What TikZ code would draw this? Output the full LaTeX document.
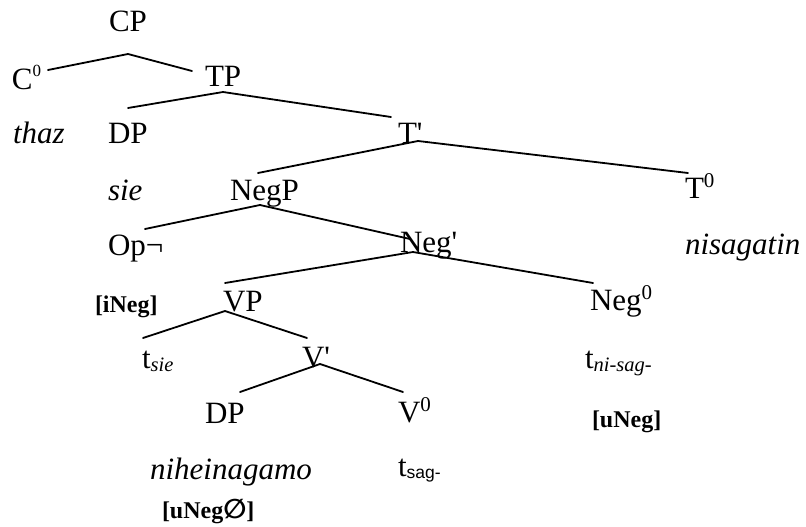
\documentclass[tikz,border=0pt]{standalone}
\usepackage{fontspec}
\setmainfont{Liberation Serif}
\newfontfamily\plainserif{Liberation Serif}
\newfontfamily\sansf{Liberation Sans}
\newfontfamily\symf{DejaVu Sans}
\newcommand{\mysup}[1]{\raisebox{11pt}{\fontsize{21}{21}\selectfont #1}}
\newcommand{\mysubi}[1]{\raisebox{-3pt}{\fontsize{20.5}{20}\selectfont\itshape #1}}
\begin{document}
\begin{tikzpicture}[x=1pt,y=-1pt,
  lab/.style={anchor=base west,inner sep=0pt,outer sep=0pt,font=\fontsize{31}{31}\selectfont},
  feat/.style={anchor=base west,inner sep=0pt,outer sep=0pt,font=\fontsize{24}{24}\selectfont\bfseries},
  branch/.style={line width=1.8pt,line cap=round}]
\useasboundingbox (0,0) rectangle (806,527);
% labels
\node[lab] (cp) at (109,32) {CP};
\node[lab] (c0) at (12,89) {C\raisebox{13pt}{\fontsize{17}{17}\selectfont 0}};
\node[lab] (tp) at (205,87) {TP};
\node[lab] (thaz) at (13,143) {\itshape thaz};
\node[lab] (dpa) at (108,143) {DP};
\node[lab] (tbar) at (398,143) {\plainserif T'};
\node[lab] (sie) at (108,200) {\itshape sie};
\node[lab] (negp) at (230,200) {NegP};
\node[lab] (t0) at (685,198) {T\mysup{0}};
\node[lab] (op) at (108,255) {Op¬};
\node[lab] (negbar) at (400,252) {\plainserif Neg'};
\node[lab] (nisag) at (685,254) {\itshape nisagatin};
\node[feat] (ineg) at (95,312) {[iNeg]};
\node[lab] (vp) at (223,311) {VP};
\node[lab] (neg0) at (590,310) {Neg\mysup{0}};
\node[lab] (tsie) at (142,368) {t\mysubi{sie}};
\node[lab] (vbar) at (302,367) {\plainserif V'};
\node[lab] (tnisag) at (585,368) {t\mysubi{ni-sag-}};
\node[lab] (dpb) at (205,423) {DP};
\node[lab] (v0) at (398,422) {V\mysup{0}};
\node[feat] (uneg) at (592,427) {[uNeg]};
\node[lab] (nihei) at (150,479) {\itshape niheinagamo};
\node[lab] (tsag) at (398,476) {t\raisebox{-2pt}{\fontsize{17.5}{17}\selectfont\sansf sag-}};
\node[feat] (unegz) at (162,518) {[uNeg{\symf\fontsize{27}{27}\selectfont ∅}]};
% branch points
\coordinate (cpA) at (128,54);   \coordinate (cpL) at (48,70);   \coordinate (cpR) at (192,71);
\coordinate (tpA) at (223,92);   \coordinate (tpL) at (128,108); \coordinate (tpR) at (391,117);
\coordinate (tbA) at (418,141);  \coordinate (tbL) at (258,173); \coordinate (tbR) at (688,173);
\coordinate (npA) at (260,205);  \coordinate (npL) at (145,229); \coordinate (npR) at (410,239);
\coordinate (nbA) at (413,252);  \coordinate (nbL) at (225,283); \coordinate (nbR) at (593,283);
\coordinate (vpA) at (225,311);  \coordinate (vpL) at (143,338); \coordinate (vpR) at (307,338);
\coordinate (vbA) at (320,364);  \coordinate (vbL) at (240,392); \coordinate (vbR) at (403,392);
\draw[branch] (cpL) -- (cpA) -- (cpR);
\draw[branch] (tpL) -- (tpA) -- (tpR);
\draw[branch] (tbL) -- (tbA) -- (tbR);
\draw[branch] (npL) -- (npA) -- (npR);
\draw[branch] (nbL) -- (nbA) -- (nbR);
\draw[branch] (vpL) -- (vpA) -- (vpR);
\draw[branch] (vbL) -- (vbA) -- (vbR);
\end{tikzpicture}
\end{document}
